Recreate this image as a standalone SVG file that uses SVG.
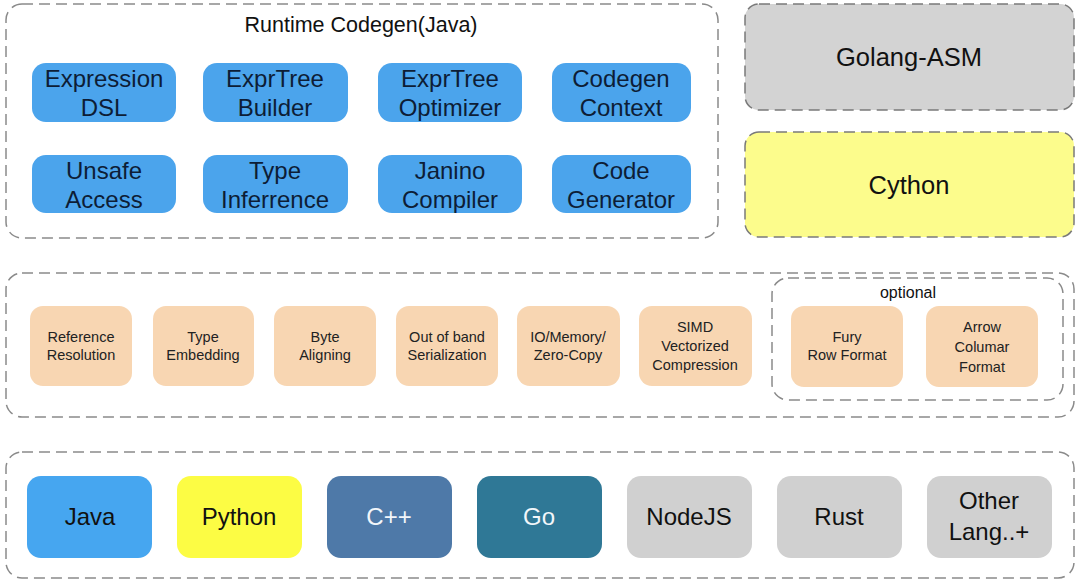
<svg xmlns="http://www.w3.org/2000/svg" width="1080" height="584" viewBox="0 0 1080 584">
<style>
.frame{fill:none;stroke:#8a8a8a;stroke-width:1.5;stroke-dasharray:11 6}
.blue{fill:#4ba4ec}
.bt{font-family:"Liberation Sans",Arial,sans-serif;font-size:24px;fill:#0d1d36;text-anchor:middle}
.orange{fill:#f8d6b2}
.ot{font-family:"Liberation Sans",Arial,sans-serif;font-size:14.5px;fill:#222;text-anchor:middle}
.lt{font-family:"Liberation Sans",Arial,sans-serif;font-size:24px;fill:#111;text-anchor:middle}
.wt{font-family:"Liberation Sans",Arial,sans-serif;font-size:24px;fill:#f2f6fa;text-anchor:middle}
.big{font-family:"Liberation Sans",Arial,sans-serif;font-size:25.5px;fill:#111;text-anchor:middle}
.gray{fill:#d0d0d0}
</style>
<rect width="1080" height="584" fill="#ffffff"/>

<g id="runtime-codegen">
<rect class="frame" x="6" y="4" width="712" height="234" rx="16"/>
<text x="361" y="32" font-family="Liberation Sans,Arial,sans-serif" font-size="21.5" fill="#111" text-anchor="middle">Runtime Codegen(Java)</text>
</g>
<g id="expression-dsl"><rect class="blue" x="32" y="63" width="144" height="59" rx="14"/><text class="bt" x="104" y="87">Expression</text><text class="bt" x="104" y="116">DSL</text></g>
<g id="exprtree-builder"><rect class="blue" x="203" y="63" width="145" height="59" rx="14"/><text class="bt" x="275" y="87">ExprTree</text><text class="bt" x="275" y="116">Builder</text></g>
<g id="exprtree-optimizer"><rect class="blue" x="378" y="63" width="144" height="59" rx="14"/><text class="bt" x="450" y="87">ExprTree</text><text class="bt" x="450" y="116">Optimizer</text></g>
<g id="codegen-context"><rect class="blue" x="552" y="63" width="139" height="59" rx="14"/><text class="bt" x="621" y="87">Codegen</text><text class="bt" x="621" y="116">Context</text></g>
<g id="unsafe-access"><rect class="blue" x="32" y="155" width="144" height="58" rx="14"/><text class="bt" x="104" y="179">Unsafe</text><text class="bt" x="104" y="208">Access</text></g>
<g id="type-inferrence"><rect class="blue" x="203" y="155" width="145" height="58" rx="14"/><text class="bt" x="275" y="179">Type</text><text class="bt" x="275" y="208">Inferrence</text></g>
<g id="janino-compiler"><rect class="blue" x="378" y="155" width="144" height="58" rx="14"/><text class="bt" x="450" y="179">Janino</text><text class="bt" x="450" y="208">Compiler</text></g>
<g id="code-generator"><rect class="blue" x="552" y="155" width="139" height="58" rx="14"/><text class="bt" x="621" y="179">Code</text><text class="bt" x="621" y="208">Generator</text></g>

<g id="golang-asm"><rect x="745" y="4" width="329" height="106" rx="14" fill="#d3d3d3" stroke="#7a7a7a" stroke-width="1.5" stroke-dasharray="11 6"/><text class="big" x="909" y="66">Golang-ASM</text></g>
<g id="cython"><rect x="745" y="132" width="329" height="105" rx="14" fill="#fcfc8c" stroke="#7a7a7a" stroke-width="1.5" stroke-dasharray="11 6"/><text class="big" x="909" y="194">Cython</text></g>

<g id="serialization-layer"><rect class="frame" x="6" y="273" width="1068" height="144" rx="16"/></g>
<g id="reference-resolution"><rect class="orange" x="30" y="306" width="102" height="80" rx="13"/><text class="ot" x="81" y="342">Reference</text><text class="ot" x="81" y="360">Resolution</text></g>
<g id="type-embedding"><rect class="orange" x="153" y="306" width="101" height="80" rx="13"/><text class="ot" x="203" y="342">Type</text><text class="ot" x="203" y="360">Embedding</text></g>
<g id="byte-aligning"><rect class="orange" x="274" y="306" width="102" height="80" rx="13"/><text class="ot" x="325" y="342">Byte</text><text class="ot" x="325" y="360">Aligning</text></g>
<g id="out-of-band"><rect class="orange" x="396" y="306" width="102" height="80" rx="13"/><text class="ot" x="447" y="342">Out of band</text><text class="ot" x="447" y="360">Serialization</text></g>
<g id="io-memory"><rect class="orange" x="517" y="306" width="103" height="80" rx="13"/><text class="ot" x="568" y="342">IO/Memory/</text><text class="ot" x="568" y="360">Zero-Copy</text></g>
<g id="simd"><rect class="orange" x="639" y="306" width="113" height="80" rx="13"/><text class="ot" x="695" y="332">SIMD</text><text class="ot" x="695" y="351">Vectorized</text><text class="ot" x="695" y="370">Compression</text></g>
<g id="optional"><rect class="frame" x="772" y="278" width="291" height="122" rx="16"/><text x="908" y="298" font-family="Liberation Sans,Arial,sans-serif" font-size="16" fill="#111" text-anchor="middle">optional</text></g>
<g id="fury-row-format"><rect class="orange" x="791" y="306" width="112" height="81" rx="13"/><text class="ot" x="847" y="342">Fury</text><text class="ot" x="847" y="360">Row Format</text></g>
<g id="arrow-columar-format"><rect class="orange" x="926" y="306" width="112" height="81" rx="13"/><text class="ot" x="982" y="332">Arrow</text><text class="ot" x="982" y="352">Columar</text><text class="ot" x="982" y="372">Format</text></g>

<g id="languages"><rect class="frame" x="6" y="452" width="1068" height="126" rx="16"/></g>
<g id="java"><rect x="27" y="476" width="125" height="82" rx="14" fill="#46a6f0"/><text class="lt" x="90" y="525">Java</text></g>
<g id="python"><rect x="177" y="476" width="125" height="82" rx="14" fill="#fcfc44"/><text class="lt" x="239" y="525">Python</text></g>
<g id="cpp"><rect x="327" y="476" width="125" height="82" rx="14" fill="#4e79a8"/><text class="wt" x="389" y="525">C++</text></g>
<g id="go"><rect x="477" y="476" width="125" height="82" rx="14" fill="#2f7896"/><text class="wt" x="539" y="525">Go</text></g>
<g id="nodejs"><rect class="gray" x="627" y="476" width="125" height="82" rx="14"/><text class="lt" x="689" y="525">NodeJS</text></g>
<g id="rust"><rect class="gray" x="777" y="476" width="125" height="82" rx="14"/><text class="lt" x="839" y="525">Rust</text></g>
<g id="other-lang"><rect class="gray" x="927" y="476" width="125" height="82" rx="14"/><text class="lt" x="989" y="509">Other</text><text class="lt" x="989" y="540">Lang..+</text></g>

<g id="connectors"></g>
</svg>
